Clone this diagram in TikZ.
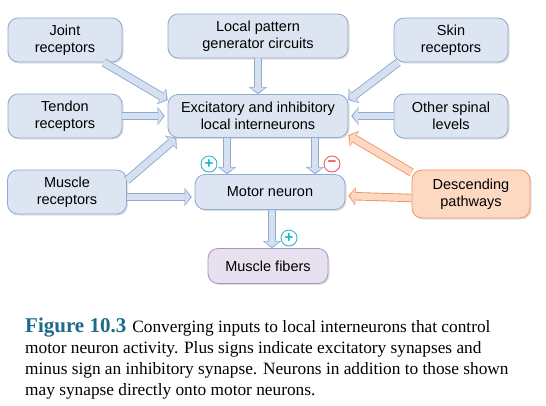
\documentclass[tikz,border=0pt]{standalone}
\usepackage{fontspec}
\setmainfont{Liberation Serif}
\setsansfont{Liberation Sans}
\usetikzlibrary{arrows.meta,shadows}

\definecolor{boxfill}{HTML}{DCE5F1}
\definecolor{boxline}{HTML}{8FA9D0}
\definecolor{arrowfill}{HTML}{D5E0F0}
\definecolor{descfill}{HTML}{FDD8C2}
\definecolor{descline}{HTML}{F2955F}
\definecolor{fiberfill}{HTML}{E7E0EE}
\definecolor{fiberline}{HTML}{A993C4}
\definecolor{pluscol}{HTML}{1BB5C4}
\definecolor{minuscol}{HTML}{E8524F}
\definecolor{figcol}{HTML}{1C6A8C}
\colorlet{arrowline}{boxline}

\begin{document}
\begin{tikzpicture}[
x=1pt,
y=-1pt,
box/.style={
draw=boxline,
fill=boxfill,
line width=0.8pt,
rounded corners=10pt,
minimum width=114pt,
minimum height=44pt,
align=center,
inner sep=2pt,
font=\sffamily\fontsize{14.5}{17.5}\selectfont,
drop shadow={shadow xshift=1.5pt, shadow yshift=-1.5pt, opacity=0.3, fill=black!40}
},
feed/.style={
preaction={draw=#1line, line width=8.4pt, shorten >=0pt,
-{Triangle[length=7pt,width=18pt,line width=0.1pt]}},
draw=#1fill, line width=6.6pt, shorten >=1.5pt,
-{Triangle[length=4.9pt,width=14.6pt,line width=0.1pt]}
},
feed/.default=arrow,
sign/.style={
circle,
draw=#1,
text=#1,
line width=0.8pt,
minimum size=16pt,
inner sep=0pt,
fill=white,
font=\sffamily\bfseries\fontsize{15}{15}\selectfont
}
]
\useasboundingbox (0,0) rectangle (546,405);

% boxes
\node[box] (joint) at (65,40) {Joint\\receptors};
\node[box, minimum width=180pt] (pattern) at (258,36) {Local pattern\\generator circuits};
\node[box] (skin) at (451,40) {Skin\\receptors};
\node[box] (tendon) at (65,116) {Tendon\\receptors};
\node[box, minimum width=180pt, minimum height=43pt] (inter) at (258,116) {Excitatory and inhibitory\\local interneurons};
\node[box] (other) at (451,116) {Other spinal\\levels};
\node[box, minimum width=119pt] (muscle) at (67,192) {Muscle\\receptors};
\node[box, minimum width=150pt, minimum height=35pt] (motor) at (270,192) {Motor neuron};
\node[box, draw=descline, fill=descfill, minimum width=118pt, minimum height=48pt] (desc) at (471,194) {Descending\\pathways};
\node[box, draw=fiberline, fill=fiberfill, minimum width=120pt, minimum height=35pt] (fibers) at (268,266) {Muscle fibers};

% inputs to interneurons
\draw[feed] (joint.-30) -- (inter.170);
\draw[feed] (tendon.east) -- ([xshift=-3pt]inter.west);
\draw[feed] (muscle.11) -- (inter.195);
\draw[feed] (pattern.south) -- (inter.north);
\draw[feed] (skin.203) -- (inter.10);
\draw[feed] (other.west) -- ([xshift=3pt]inter.east);
\draw[feed=desc] (desc.160) -- (inter.-12);

% inputs to motor neuron
\draw[feed] ([yshift=-5pt]muscle.east) -- ([xshift=-3pt,yshift=-5pt]motor.west);
\draw[feed=desc] ([yshift=-4pt]desc.west) -- ([xshift=3pt,yshift=-4pt]motor.east);
\draw[feed] ([xshift=-31pt]inter.south) -- ([xshift=-31pt]inter.south |- motor.north);
\draw[feed] ([xshift=57pt]inter.south) -- ([xshift=57pt]inter.south |- motor.north);

% output
\draw[feed] ([xshift=2pt]motor.south) -- ([xshift=2pt]motor.south |- fibers.north);

% synapse signs
\node[sign=pluscol] (plusa) at (209,164) {+};
\node[sign=minuscol] (minus) at (332,164) {−};
\node[sign=pluscol] (plusb) at (289,238) {+};

% caption
\node[anchor=north west, align=left, inner sep=0pt, font=\fontsize{17.3}{21}\selectfont] (caption) at (25,318)
{{\color{figcol}\bfseries\fontsize{21}{21}\selectfont Figure 10.3}\hspace{0.35em}Converging inputs to local interneurons that control\\
motor neuron activity. Plus signs indicate excitatory synapses and\\
minus sign an inhibitory synapse. Neurons in addition to those shown\\
may synapse directly onto motor neurons.};
\end{tikzpicture}
\end{document}
